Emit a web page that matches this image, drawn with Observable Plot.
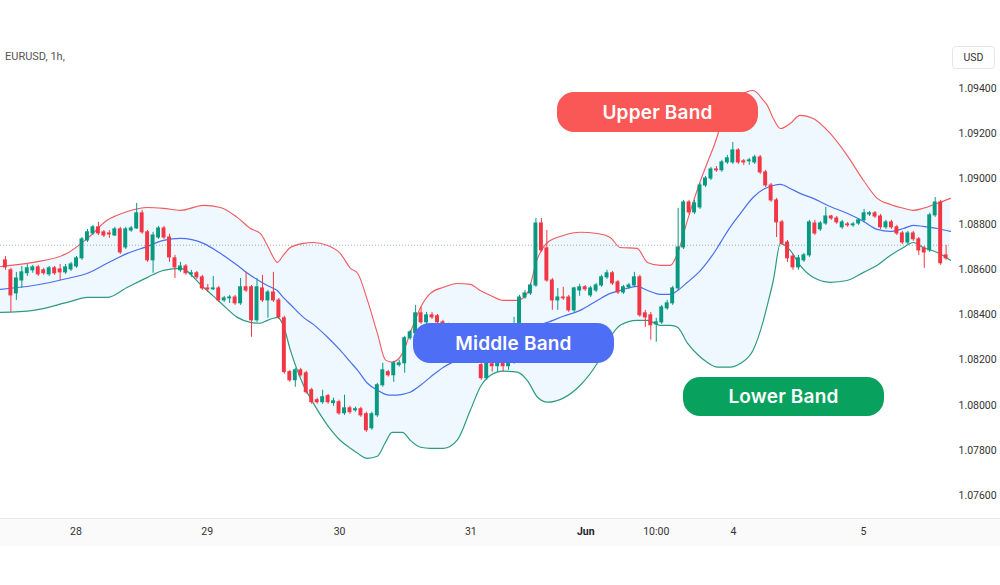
<!DOCTYPE html>
<html><head><meta charset="utf-8">
<script src="https://cdn.jsdelivr.net/npm/d3@7"></script>
<script src="https://cdn.jsdelivr.net/npm/@observablehq/plot@0.6"></script>
<style>
body{margin:0;background:#fff;}
#wrap{position:relative;width:1000px;height:585px;overflow:hidden;background:#fff;font-family:Roboto,"Liberation Sans",sans-serif;}
#wrap svg{position:absolute;left:0;top:0;}
.pill{position:absolute;height:40px;width:201px;border-radius:17px;color:#fff;font:600 19px Inter,"Open Sans",sans-serif;display:flex;align-items:center;justify-content:center;letter-spacing:0.2px;}
#timebar{position:absolute;left:0;top:518px;width:1000px;height:27px;background:#fafafa;border-top:1px solid #e6e8ec;}
#title{position:absolute;left:5px;top:50px;font-size:11px;color:#555;}
#usd{position:absolute;left:952px;top:46px;width:41px;height:21px;border:1px solid #e4e6ea;border-radius:4px;font-size:10.5px;color:#333;display:flex;align-items:center;justify-content:center;}
</style></head><body><div id="wrap"><div id="timebar"></div></div>
<script>
// ---- candle data (EURUSD, 1h) ----
const open = [1.08640,1.08596,1.08494,1.08551,1.08583,1.08596,1.08609,1.08596,1.08578,1.08605,
1.08600,1.08587,1.08600,1.08613,1.08649,1.08728,1.08759,1.08786,1.08764,1.08759,
1.08750,1.08777,1.08697,1.08772,1.08781,1.08848,1.08764,1.08640,1.08741,1.08781,
1.08741,1.08649,1.08596,1.08613,1.08578,1.08583,1.08565,1.08516,1.08512,1.08516,
1.08463,1.08472,1.08476,1.08450,1.08521,1.08521,1.08375,1.08516,1.08463,1.08498,
1.08463,1.08384,1.08146,1.08110,1.08154,1.08141,1.08066,1.08022,1.08013,1.08040,
1.08009,1.08013,1.07964,1.07986,1.07977,1.07982,1.07960,1.07898,1.07955,1.08088,
1.08146,1.08132,1.08177,1.08185,1.08296,1.08318,1.08406,1.08366,1.08397,1.08393,
1.08366,1.08353,1.08309,1.08331,1.08278,1.08296,1.08234,1.08177,1.08119,1.08181,
1.08172,1.08185,1.08172,1.08190,1.08331,1.08476,1.08494,1.08529,1.08803,1.08693,
1.08551,1.08463,1.08476,1.08476,1.08419,1.08507,1.08521,1.08485,1.08507,1.08529,
1.08565,1.08583,1.08543,1.08498,1.08521,1.08529,1.08565,1.08406,1.08397,1.08357,
1.08366,1.08428,1.08450,1.08516,1.08697,1.08896,1.08852,1.08874,1.08971,1.09002,
1.09042,1.09038,1.09073,1.09073,1.09126,1.09078,1.09078,1.09073,1.09095,1.09029,
1.08971,1.08905,1.08808,1.08719,1.08657,1.08609,1.08640,1.08662,1.08803,1.08777,
1.08803,1.08834,1.08825,1.08786,1.08799,1.08795,1.08803,1.08817,1.08843,1.08848,
1.08834,1.08786,1.08808,1.08786,1.08759,1.08719,1.08759,1.08733,1.08693,1.08684,
1.08839,1.08896,1.08662];
const close = [1.08609,1.08485,1.08560,1.08587,1.08605,1.08609,1.08578,1.08583,1.08605,1.08583,
1.08587,1.08609,1.08622,1.08649,1.08733,1.08764,1.08786,1.08759,1.08750,1.08755,
1.08777,1.08675,1.08777,1.08781,1.08848,1.08764,1.08640,1.08750,1.08781,1.08741,
1.08653,1.08609,1.08613,1.08583,1.08583,1.08565,1.08516,1.08512,1.08516,1.08463,
1.08472,1.08476,1.08450,1.08521,1.08507,1.08375,1.08521,1.08463,1.08498,1.08463,
1.08388,1.08146,1.08110,1.08154,1.08132,1.08057,1.08013,1.08013,1.08035,1.08013,
1.08017,1.07964,1.07986,1.07969,1.07982,1.07955,1.07889,1.07960,1.08088,1.08154,
1.08132,1.08185,1.08185,1.08296,1.08322,1.08406,1.08366,1.08397,1.08388,1.08366,
1.08353,1.08309,1.08331,1.08278,1.08296,1.08234,1.08199,1.08119,1.08185,1.08172,
1.08185,1.08172,1.08190,1.08331,1.08476,1.08494,1.08529,1.08803,1.08684,1.08551,
1.08463,1.08476,1.08472,1.08419,1.08516,1.08521,1.08512,1.08516,1.08529,1.08565,
1.08583,1.08538,1.08498,1.08521,1.08529,1.08565,1.08397,1.08388,1.08353,1.08366,
1.08432,1.08450,1.08516,1.08697,1.08896,1.08852,1.08892,1.08971,1.09002,1.09042,
1.09038,1.09073,1.09091,1.09126,1.09073,1.09073,1.09082,1.09095,1.09029,1.08971,
1.08905,1.08808,1.08715,1.08649,1.08609,1.08649,1.08662,1.08808,1.08759,1.08803,
1.08834,1.08825,1.08808,1.08808,1.08795,1.08799,1.08817,1.08848,1.08848,1.08834,
1.08786,1.08808,1.08786,1.08759,1.08719,1.08759,1.08733,1.08684,1.08675,1.08839,
1.08896,1.08627,1.08649];
const high = [1.08657,1.08605,1.08587,1.08613,1.08622,1.08618,1.08618,1.08605,1.08613,1.08613,
1.08622,1.08622,1.08631,1.08657,1.08741,1.08777,1.08795,1.08808,1.08772,1.08772,
1.08786,1.08786,1.08786,1.08790,1.08892,1.08861,1.08772,1.08764,1.08790,1.08790,
1.08755,1.08662,1.08631,1.08622,1.08596,1.08591,1.08574,1.08534,1.08569,1.08525,
1.08481,1.08485,1.08485,1.08560,1.08587,1.08529,1.08560,1.08574,1.08507,1.08587,
1.08472,1.08393,1.08154,1.08163,1.08163,1.08150,1.08075,1.08031,1.08066,1.08048,
1.08031,1.08022,1.08044,1.07995,1.07991,1.07991,1.07969,1.07969,1.08097,1.08185,
1.08154,1.08194,1.08199,1.08304,1.08331,1.08441,1.08432,1.08410,1.08410,1.08401,
1.08375,1.08362,1.08340,1.08340,1.08309,1.08304,1.08243,1.08199,1.08199,1.08199,
1.08207,1.08199,1.08207,1.08388,1.08485,1.08507,1.08538,1.08825,1.08825,1.08772,
1.08560,1.08516,1.08521,1.08485,1.08521,1.08534,1.08529,1.08525,1.08538,1.08574,
1.08596,1.08591,1.08551,1.08529,1.08538,1.08587,1.08574,1.08419,1.08410,1.08384,
1.08441,1.08463,1.08525,1.08870,1.08905,1.08905,1.08905,1.08980,1.09011,1.09051,
1.09055,1.09082,1.09104,1.09161,1.09134,1.09086,1.09091,1.09104,1.09104,1.09038,
1.08980,1.08914,1.08817,1.08728,1.08666,1.08662,1.08671,1.08817,1.08817,1.08812,
1.08874,1.08839,1.08834,1.08817,1.08808,1.08808,1.08825,1.08865,1.08856,1.08856,
1.08843,1.08817,1.08817,1.08795,1.08768,1.08768,1.08768,1.08741,1.08702,1.08848,
1.08918,1.08905,1.08706];
const low = [1.08596,1.08410,1.08463,1.08516,1.08569,1.08583,1.08569,1.08574,1.08569,1.08574,
1.08551,1.08578,1.08591,1.08605,1.08640,1.08719,1.08750,1.08750,1.08741,1.08737,
1.08746,1.08666,1.08688,1.08764,1.08777,1.08755,1.08631,1.08583,1.08733,1.08733,
1.08631,1.08560,1.08587,1.08574,1.08565,1.08556,1.08507,1.08498,1.08507,1.08454,
1.08454,1.08450,1.08441,1.08441,1.08498,1.08300,1.08366,1.08454,1.08384,1.08454,
1.08379,1.08137,1.08101,1.08079,1.08124,1.08048,1.08004,1.08004,1.08004,1.08004,
1.07995,1.07955,1.07955,1.07960,1.07969,1.07946,1.07880,1.07889,1.07946,1.08079,
1.08124,1.08101,1.08168,1.08141,1.08287,1.08309,1.08357,1.08357,1.08379,1.08357,
1.08340,1.08296,1.08287,1.08265,1.08252,1.08221,1.08185,1.08110,1.08110,1.08146,
1.08146,1.08146,1.08154,1.08181,1.08322,1.08468,1.08485,1.08521,1.08675,1.08543,
1.08419,1.08419,1.08463,1.08410,1.08410,1.08481,1.08503,1.08476,1.08498,1.08521,
1.08556,1.08529,1.08490,1.08490,1.08512,1.08521,1.08388,1.08344,1.08287,1.08278,
1.08357,1.08419,1.08441,1.08507,1.08688,1.08843,1.08843,1.08865,1.08962,1.08993,
1.09029,1.09029,1.09064,1.09064,1.09064,1.09060,1.09060,1.09064,1.09020,1.08962,
1.08896,1.08741,1.08706,1.08631,1.08596,1.08596,1.08631,1.08653,1.08750,1.08768,
1.08795,1.08817,1.08799,1.08777,1.08786,1.08786,1.08795,1.08808,1.08834,1.08825,
1.08777,1.08777,1.08777,1.08750,1.08710,1.08710,1.08724,1.08662,1.08605,1.08675,
1.08830,1.08618,1.08640];

// ---- Bollinger band readings (candle-index positions) ----
const bandX = [-0.9,5.1,11.3,15.0,18.6,22.3,26.0,28.9,32.0,36.2,
39.3,42.4,44.8,46.6,47.9,49.0,49.7,50.8,52.1,54.5,
56.3,58.9,61.2,63.1,64.4,66.2,68.0,69.5,70.7,72.6,
74.0,75.9,77.7,80.1,82.6,85.0,86.8,88.7,91.0,93.6,
95.4,97.3,99.1,102.0,105.1,108.2,110.6,112.4,115.5,117.4,
119.7,121.6,122.9,124.7,127.1,128.3,130.2,131.3,132.5,134.4,
136.7,138.6,139.3,140.4,141.7,143.5,145.3,147.7,150.8,153.9,
156.9,159.4,161.8,164.2,166.0,167.8,170.4,172.8];
const upper = [1.08613,1.08631,1.08671,1.08737,1.08817,1.08856,1.08874,1.08870,1.08861,1.08883,
1.08874,1.08830,1.08781,1.08759,1.08706,1.08653,1.08631,1.08662,1.08697,1.08715,
1.08719,1.08706,1.08671,1.08605,1.08583,1.08463,1.08318,1.08199,1.08190,1.08229,
1.08318,1.08432,1.08494,1.08521,1.08538,1.08534,1.08507,1.08485,1.08463,1.08463,
1.08494,1.08649,1.08719,1.08750,1.08764,1.08759,1.08741,1.08697,1.08693,1.08631,
1.08618,1.08618,1.08671,1.08817,1.08993,1.09069,1.09192,1.09289,1.09325,1.09369,
1.09391,1.09347,1.09325,1.09267,1.09223,1.09245,1.09281,1.09267,1.09201,1.09104,
1.08993,1.08914,1.08887,1.08870,1.08861,1.08870,1.08892,1.08914];
const middle = [1.08512,1.08529,1.08560,1.08583,1.08627,1.08671,1.08702,1.08728,1.08737,1.08715,
1.08671,1.08618,1.08574,1.08547,1.08529,1.08516,1.08507,1.08476,1.08445,1.08388,
1.08357,1.08300,1.08243,1.08190,1.08154,1.08097,1.08066,1.08048,1.08044,1.08048,
1.08057,1.08088,1.08124,1.08168,1.08199,1.08221,1.08243,1.08265,1.08291,1.08318,
1.08340,1.08353,1.08366,1.08393,1.08419,1.08463,1.08494,1.08507,1.08525,1.08507,
1.08490,1.08490,1.08507,1.08543,1.08596,1.08631,1.08697,1.08741,1.08786,1.08848,
1.08918,1.08954,1.08962,1.08971,1.08976,1.08958,1.08936,1.08914,1.08878,1.08848,
1.08812,1.08777,1.08768,1.08781,1.08795,1.08790,1.08781,1.08768];
const lower = [1.08410,1.08419,1.08454,1.08476,1.08476,1.08521,1.08565,1.08596,1.08605,1.08521,
1.08454,1.08388,1.08366,1.08362,1.08375,1.08384,1.08388,1.08353,1.08243,1.08088,
1.08009,1.07911,1.07845,1.07809,1.07787,1.07765,1.07774,1.07836,1.07880,1.07880,
1.07845,1.07814,1.07809,1.07809,1.07845,1.07977,1.08079,1.08132,1.08150,1.08146,
1.08110,1.08035,1.08013,1.08031,1.08088,1.08185,1.08300,1.08353,1.08375,1.08375,
1.08353,1.08353,1.08344,1.08274,1.08212,1.08190,1.08168,1.08168,1.08168,1.08185,
1.08243,1.08375,1.08441,1.08551,1.08715,1.08684,1.08618,1.08565,1.08543,1.08551,
1.08587,1.08618,1.08662,1.08697,1.08719,1.08697,1.08675,1.08640];

const priceLine = 1.08707;
const yTicks = [1.076,1.078,1.080,1.082,1.084,1.086,1.088,1.090,1.092,1.094];
const xTickPos = [12.9, 36.9, 61.1, 85.1, 106.1, 119.0, 133.1, 156.9];
const xTickLabels = ["28", "29", "30", "31", "Jun", "10:00", "4", "5"];
const boldLabels = ["Jun"];

const UP = "#089981", DOWN = "#F23645";

const candles = open.map((o, i) => ({i, o, c: close[i], h: high[i], l: low[i], up: close[i] >= o}));
const ups = candles.filter(d => d.up), downs = candles.filter(d => !d.up);
const bands = bandX.map((x, k) => ({x, u: upper[k], m: middle[k], lo: lower[k]}));
const lbl = new Map(xTickPos.map((p, k) => [p, xTickLabels[k]]));
const normalTicks = xTickPos.filter((p, k) => !boldLabels.includes(xTickLabels[k]));
const boldTicks = xTickPos.filter((p, k) => boldLabels.includes(xTickLabels[k]));

const bodyMark = (data, color) => Plot.rect(data, {
  x1: d => d.i - 0.36, x2: d => d.i + 0.36, y1: "o", y2: "c",
  fill: color, insetTop: -0.5, insetBottom: -0.5
});

const chart = Plot.plot({
  width: 1000, height: 585,
  marginTop: 42, marginBottom: 67, marginLeft: 0, marginRight: 50,
  style: {background: "transparent", fontFamily: "Roboto, 'Liberation Sans', sans-serif"},
  x: {domain: [-0.9, 172.8], label: null},
  y: {domain: [1.07499, 1.09603], label: null},
  marks: [
    Plot.areaY(bands, {x: "x", y1: "lo", y2: "u", fill: "#2196F3", fillOpacity: 0.07, curve: "monotone-x"}),
    Plot.ruleY([priceLine], {stroke: "#7f9aa5", strokeDasharray: "1,2", strokeWidth: 1, strokeOpacity: 0.8}),
    Plot.lineY(bands, {x: "x", y: "u", stroke: "#F25A5F", strokeWidth: 1.1, curve: "monotone-x"}),
    Plot.lineY(bands, {x: "x", y: "m", stroke: "#4A6FF0", strokeWidth: 1.2, curve: "monotone-x"}),
    Plot.lineY(bands, {x: "x", y: "lo", stroke: "#2E9A80", strokeWidth: 1.2, curve: "monotone-x"}),
    Plot.ruleX(ups, {x: "i", y1: "l", y2: "h", stroke: UP, strokeWidth: 1}),
    Plot.ruleX(downs, {x: "i", y1: "l", y2: "h", stroke: DOWN, strokeWidth: 1}),
    bodyMark(ups, UP),
    bodyMark(downs, DOWN),
    Plot.axisY(yTicks, {anchor: "right", tickSize: 0, tickPadding: 8, tickFormat: d => d.toFixed(5), fontSize: 10.5, color: "#333", label: null}),
    Plot.axisX(normalTicks, {tickSize: 0, tickPadding: 9, tickFormat: d => lbl.get(d), fontSize: 10.5, color: "#333", label: null}),
    Plot.axisX(boldTicks, {tickSize: 0, tickPadding: 9, tickFormat: d => lbl.get(d), fontSize: 10.5, fontWeight: "bold", color: "#222", label: null})
  ]
});

const wrap = document.getElementById("wrap");
wrap.appendChild(chart);

function addDiv(cls, id, text, style) {
  const el = document.createElement("div");
  if (cls) el.className = cls;
  if (id) el.id = id;
  el.textContent = text;
  Object.assign(el.style, style || {});
  wrap.appendChild(el);
}
addDiv(null, "title", "EURUSD, 1h,");
addDiv(null, "usd", "USD");
addDiv("pill", null, "Upper Band", {left: "557px", top: "92px", background: "#FA5757"});
addDiv("pill", null, "Middle Band", {left: "413px", top: "323px", background: "#4F6EF6"});
addDiv("pill", null, "Lower Band", {left: "683px", top: "377px", height: "39px", background: "#08A25E"});
</script></body></html>
